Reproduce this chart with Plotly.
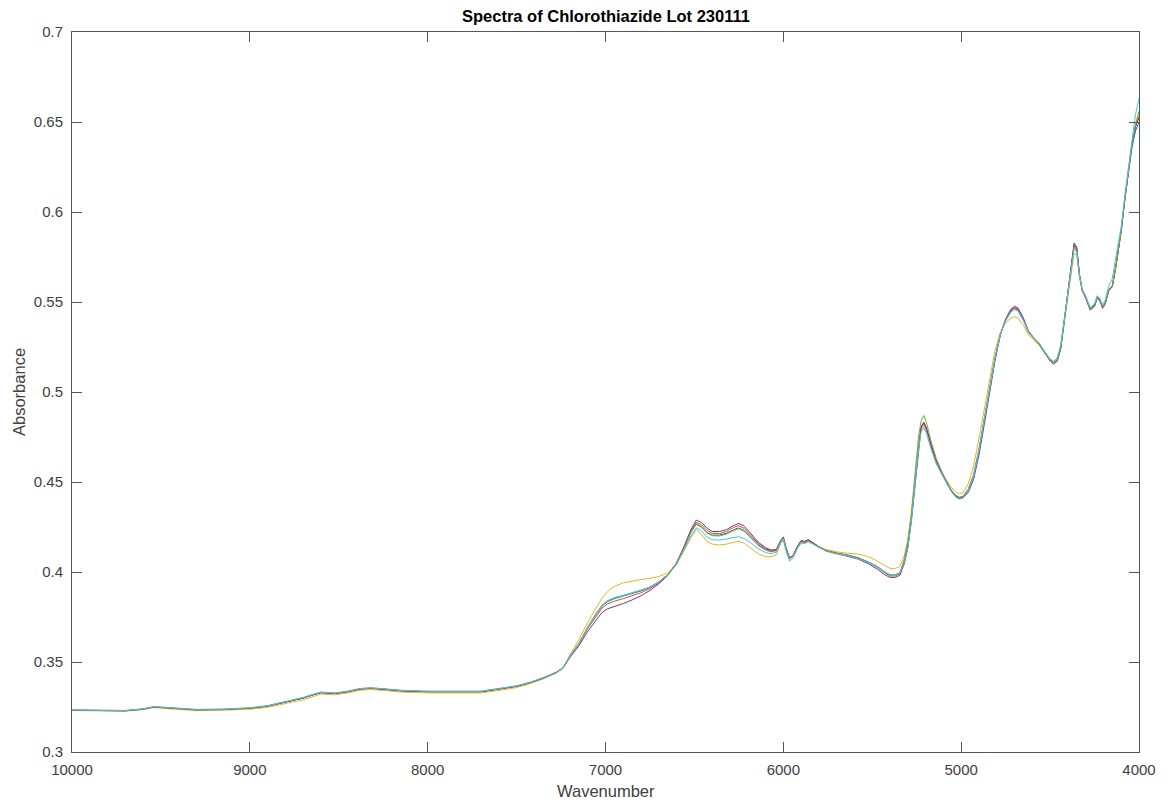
import plotly.graph_objects as go

# Wavenumber grid (cm^-1), shared by every spectrum
wn_a = [10000, 9900, 9800, 9700, 9600, 9540, 9450, 9300, 9150, 9000, 8900, 8800, 8750, 8700, 8650, 8600,
        8520, 8450, 8380, 8320, 8250, 8150, 8000, 7850, 7700, 7600, 7500, 7430, 7350, 7280, 7240]
wn_b = [7200, 7150, 7100, 7050, 7020, 6990, 6950, 6900, 6850, 6800, 6750, 6700, 6650, 6600, 6560, 6520,
        6490, 6460, 6430, 6400, 6360, 6320, 6280, 6250, 6220, 6180, 6140, 6100, 6070, 6040]
wn_c = [6015, 6000, 5985, 5965, 5945, 5920, 5900, 5880, 5860, 5840, 5800, 5760, 5700, 5640, 5580, 5520,
        5470, 5430, 5400, 5370, 5345]
wn_d = [5320, 5300, 5280, 5260, 5240, 5225, 5210, 5195, 5170, 5140, 5100, 5060, 5030, 5010, 4990, 4960]
wn_e = [4930, 4900, 4870, 4840, 4810, 4780, 4750, 4720, 4700, 4680, 4650, 4620, 4590, 4560, 4530, 4500]
wn_f = [4480, 4460, 4440, 4420, 4400, 4380, 4365, 4350, 4335, 4320, 4300, 4275, 4250, 4235, 4220, 4205,
        4190, 4170, 4150, 4130, 4115, 4100, 4080, 4060, 4040, 4020, 4000]
wavenumber = wn_a + wn_b + wn_c + wn_d + wn_e + wn_f

# Spectrum 1 (blue)
s1 = ([0.3232, 0.3230, 0.3228, 0.3229, 0.3238, 0.3250, 0.3244, 0.3234, 0.3236, 0.3243, 0.3255, 0.3278, 0.3290, 0.3300, 0.3316, 0.3330,
       0.3325, 0.3335, 0.3350, 0.3354, 0.3349, 0.3340, 0.3335, 0.3334, 0.3335, 0.3350, 0.3365, 0.3383, 0.3410, 0.3440, 0.3465]
      + [0.3530, 0.3600, 0.3690, 0.3770, 0.3810, 0.3835, 0.3852, 0.3865, 0.3880, 0.3895, 0.3915, 0.3945, 0.3985, 0.4050, 0.4130, 0.4220,
         0.4265, 0.4250, 0.4220, 0.4205, 0.4205, 0.4215, 0.4235, 0.4245, 0.4230, 0.4190, 0.4150, 0.4125, 0.4115, 0.4120]
      + [0.4170, 0.4190, 0.4130, 0.4075, 0.4090, 0.4140, 0.4170, 0.4165, 0.4175, 0.4165, 0.4140, 0.4120, 0.4105, 0.4095, 0.4080, 0.4055,
         0.4030, 0.4000, 0.3985, 0.3985, 0.3995]
      + [0.4060, 0.4150, 0.4300, 0.4500, 0.4700, 0.4800, 0.4825, 0.4790, 0.4700, 0.4610, 0.4530, 0.4460, 0.4425, 0.4415, 0.4420, 0.4460]
      + [0.4540, 0.4680, 0.4850, 0.5020, 0.5190, 0.5320, 0.5400, 0.5450, 0.5465, 0.5455, 0.5400, 0.5330, 0.5295, 0.5265, 0.5220, 0.5180]
      + [0.5165, 0.5180, 0.5250, 0.5400, 0.5560, 0.5700, 0.5810, 0.5790, 0.5650, 0.5570, 0.5530, 0.5465, 0.5485, 0.5530, 0.5515, 0.5475,
         0.5495, 0.5570, 0.5590, 0.5700, 0.5800, 0.5900, 0.6070, 0.6225, 0.6355, 0.6450, 0.6500])

# Spectrum 2 (orange-red)
s2 = ([0.3232, 0.3230, 0.3228, 0.3229, 0.3238, 0.3250, 0.3244, 0.3234, 0.3236, 0.3243, 0.3255, 0.3278, 0.3290, 0.3300, 0.3316, 0.3330,
       0.3325, 0.3335, 0.3350, 0.3354, 0.3349, 0.3340, 0.3335, 0.3334, 0.3335, 0.3350, 0.3365, 0.3383, 0.3410, 0.3440, 0.3465]
      + [0.3530, 0.3600, 0.3685, 0.3760, 0.3800, 0.3822, 0.3838, 0.3852, 0.3868, 0.3885, 0.3908, 0.3940, 0.3982, 0.4050, 0.4135, 0.4228,
         0.4275, 0.4262, 0.4232, 0.4215, 0.4213, 0.4225, 0.4248, 0.4258, 0.4242, 0.4200, 0.4158, 0.4130, 0.4118, 0.4122]
      + [0.4172, 0.4192, 0.4132, 0.4078, 0.4092, 0.4142, 0.4172, 0.4168, 0.4177, 0.4167, 0.4140, 0.4120, 0.4105, 0.4093, 0.4078, 0.4052,
         0.4025, 0.3995, 0.3978, 0.3978, 0.3990]
      + [0.4055, 0.4145, 0.4295, 0.4495, 0.4700, 0.4805, 0.4830, 0.4795, 0.4705, 0.4612, 0.4530, 0.4458, 0.4420, 0.4410, 0.4415, 0.4452]
      + [0.4530, 0.4668, 0.4838, 0.5010, 0.5182, 0.5318, 0.5402, 0.5455, 0.5470, 0.5460, 0.5405, 0.5332, 0.5296, 0.5265, 0.5218, 0.5176]
      + [0.5160, 0.5175, 0.5245, 0.5398, 0.5562, 0.5705, 0.5818, 0.5798, 0.5652, 0.5568, 0.5526, 0.5460, 0.5480, 0.5526, 0.5510, 0.5470,
         0.5492, 0.5566, 0.5588, 0.5698, 0.5798, 0.5898, 0.6068, 0.6228, 0.6375, 0.6475, 0.6530])

# Spectrum 3 (yellow)
s3 = ([0.3230, 0.3228, 0.3226, 0.3227, 0.3235, 0.3247, 0.3240, 0.3230, 0.3232, 0.3238, 0.3248, 0.3268, 0.3280, 0.3290, 0.3306, 0.3322,
       0.3318, 0.3328, 0.3343, 0.3347, 0.3342, 0.3333, 0.3328, 0.3327, 0.3328, 0.3342, 0.3358, 0.3378, 0.3406, 0.3438, 0.3465]
      + [0.3540, 0.3625, 0.3720, 0.3805, 0.3855, 0.3890, 0.3920, 0.3940, 0.3950, 0.3958, 0.3965, 0.3975, 0.3995, 0.4045, 0.4115, 0.4190,
         0.4235, 0.4210, 0.4170, 0.4155, 0.4150, 0.4155, 0.4165, 0.4170, 0.4160, 0.4130, 0.4100, 0.4085, 0.4085, 0.4095]
      + [0.4160, 0.4175, 0.4125, 0.4080, 0.4090, 0.4135, 0.4160, 0.4160, 0.4168, 0.4160, 0.4140, 0.4125, 0.4112, 0.4105, 0.4100, 0.4085,
         0.4060, 0.4035, 0.4020, 0.4020, 0.4030]
      + [0.4090, 0.4180, 0.4320, 0.4510, 0.4700, 0.4790, 0.4810, 0.4775, 0.4690, 0.4605, 0.4535, 0.4475, 0.4445, 0.4435, 0.4440, 0.4490]
      + [0.4590, 0.4740, 0.4910, 0.5080, 0.5230, 0.5330, 0.5385, 0.5410, 0.5418, 0.5410, 0.5370, 0.5315, 0.5285, 0.5258, 0.5215, 0.5178]
      + [0.5162, 0.5175, 0.5245, 0.5390, 0.5545, 0.5680, 0.5770, 0.5760, 0.5640, 0.5565, 0.5525, 0.5462, 0.5480, 0.5525, 0.5510, 0.5472,
         0.5492, 0.5565, 0.5588, 0.5700, 0.5795, 0.5895, 0.6065, 0.6225, 0.6375, 0.6478, 0.6555])

# Spectrum 4 (purple)
s4 = ([0.3232, 0.3230, 0.3228, 0.3229, 0.3238, 0.3250, 0.3244, 0.3234, 0.3236, 0.3243, 0.3255, 0.3278, 0.3290, 0.3300, 0.3316, 0.3330,
       0.3325, 0.3335, 0.3350, 0.3354, 0.3349, 0.3340, 0.3335, 0.3334, 0.3335, 0.3350, 0.3365, 0.3383, 0.3410, 0.3440, 0.3465]
      + [0.3525, 0.3590, 0.3670, 0.3740, 0.3775, 0.3795, 0.3808, 0.3825, 0.3845, 0.3868, 0.3898, 0.3935, 0.3980, 0.4050, 0.4138, 0.4235,
         0.4288, 0.4275, 0.4245, 0.4225, 0.4225, 0.4235, 0.4258, 0.4270, 0.4255, 0.4210, 0.4165, 0.4135, 0.4122, 0.4125]
      + [0.4175, 0.4195, 0.4135, 0.4078, 0.4092, 0.4145, 0.4175, 0.4170, 0.4180, 0.4168, 0.4140, 0.4118, 0.4102, 0.4090, 0.4072, 0.4045,
         0.4015, 0.3985, 0.3970, 0.3970, 0.3982]
      + [0.4045, 0.4135, 0.4285, 0.4490, 0.4695, 0.4805, 0.4832, 0.4800, 0.4710, 0.4618, 0.4535, 0.4458, 0.4418, 0.4408, 0.4410, 0.4442]
      + [0.4515, 0.4650, 0.4820, 0.4995, 0.5172, 0.5315, 0.5405, 0.5460, 0.5476, 0.5466, 0.5410, 0.5335, 0.5298, 0.5266, 0.5218, 0.5172]
      + [0.5155, 0.5170, 0.5240, 0.5395, 0.5565, 0.5712, 0.5828, 0.5805, 0.5655, 0.5566, 0.5522, 0.5455, 0.5475, 0.5522, 0.5505, 0.5465,
         0.5488, 0.5562, 0.5585, 0.5695, 0.5795, 0.5895, 0.6065, 0.6225, 0.6372, 0.6472, 0.6525])

# Spectrum 5 (green)
s5 = ([0.3233, 0.3231, 0.3229, 0.3230, 0.3239, 0.3251, 0.3245, 0.3235, 0.3237, 0.3244, 0.3256, 0.3279, 0.3291, 0.3302, 0.3318, 0.3332,
       0.3327, 0.3337, 0.3352, 0.3356, 0.3351, 0.3342, 0.3337, 0.3336, 0.3337, 0.3352, 0.3367, 0.3385, 0.3412, 0.3442, 0.3466]
      + [0.3532, 0.3605, 0.3695, 0.3775, 0.3815, 0.3838, 0.3855, 0.3868, 0.3882, 0.3897, 0.3917, 0.3946, 0.3986, 0.4050, 0.4130, 0.4222,
         0.4268, 0.4252, 0.4218, 0.4202, 0.4200, 0.4210, 0.4230, 0.4240, 0.4226, 0.4186, 0.4146, 0.4122, 0.4112, 0.4118]
      + [0.4168, 0.4188, 0.4128, 0.4072, 0.4088, 0.4138, 0.4168, 0.4163, 0.4173, 0.4163, 0.4138, 0.4118, 0.4103, 0.4093, 0.4078, 0.4053,
         0.4028, 0.3998, 0.3983, 0.3983, 0.3995]
      + [0.4070, 0.4170, 0.4330, 0.4540, 0.4750, 0.4840, 0.4870, 0.4830, 0.4730, 0.4630, 0.4540, 0.4462, 0.4425, 0.4415, 0.4420, 0.4458]
      + [0.4538, 0.4678, 0.4848, 0.5020, 0.5190, 0.5320, 0.5398, 0.5448, 0.5462, 0.5452, 0.5398, 0.5328, 0.5292, 0.5262, 0.5216, 0.5175]
      + [0.5158, 0.5176, 0.5248, 0.5400, 0.5560, 0.5700, 0.5805, 0.5786, 0.5648, 0.5568, 0.5528, 0.5462, 0.5482, 0.5528, 0.5512, 0.5472,
         0.5494, 0.5568, 0.5590, 0.5700, 0.5800, 0.5900, 0.6070, 0.6230, 0.6380, 0.6485, 0.6560])

# Spectrum 6 (cyan)
s6 = ([0.3234, 0.3232, 0.3230, 0.3231, 0.3240, 0.3253, 0.3247, 0.3237, 0.3239, 0.3246, 0.3258, 0.3281, 0.3293, 0.3303, 0.3319, 0.3333,
       0.3328, 0.3338, 0.3353, 0.3357, 0.3352, 0.3343, 0.3338, 0.3337, 0.3338, 0.3353, 0.3368, 0.3386, 0.3413, 0.3443, 0.3467]
      + [0.3530, 0.3600, 0.3690, 0.3772, 0.3815, 0.3840, 0.3858, 0.3870, 0.3884, 0.3898, 0.3916, 0.3944, 0.3982, 0.4042, 0.4118, 0.4200,
         0.4245, 0.4228, 0.4195, 0.4180, 0.4177, 0.4183, 0.4192, 0.4196, 0.4186, 0.4160, 0.4128, 0.4108, 0.4102, 0.4110]
      + [0.4162, 0.4182, 0.4118, 0.4060, 0.4078, 0.4132, 0.4162, 0.4158, 0.4168, 0.4158, 0.4135, 0.4115, 0.4100, 0.4090, 0.4075, 0.4052,
         0.4028, 0.3998, 0.3985, 0.3985, 0.3995]
      + [0.4050, 0.4135, 0.4280, 0.4480, 0.4680, 0.4780, 0.4800, 0.4770, 0.4685, 0.4600, 0.4522, 0.4452, 0.4415, 0.4405, 0.4410, 0.4450]
      + [0.4532, 0.4672, 0.4845, 0.5015, 0.5185, 0.5316, 0.5395, 0.5445, 0.5458, 0.5450, 0.5398, 0.5330, 0.5298, 0.5270, 0.5225, 0.5185]
      + [0.5170, 0.5190, 0.5262, 0.5410, 0.5560, 0.5695, 0.5795, 0.5778, 0.5645, 0.5572, 0.5535, 0.5470, 0.5490, 0.5535, 0.5520, 0.5485,
         0.5510, 0.5590, 0.5630, 0.5750, 0.5830, 0.5920, 0.6090, 0.6250, 0.6410, 0.6540, 0.6630])

series = [s1, s2, s3, s4, s5, s6]
colors = ["#0072BD", "#D95319", "#EDB120", "#7E2F8E", "#77AC30", "#4DBEEE"]

x_ticks = [10000, 9000, 8000, 7000, 6000, 5000, 4000]
y_ticks = [0.3, 0.35, 0.4, 0.45, 0.5, 0.55, 0.6, 0.65, 0.7]
y_tick_text = ["0.3", "0.35", "0.4", "0.45", "0.5", "0.55", "0.6", "0.65", "0.7"]

FONT = "Liberation Sans, Arial, Helvetica, sans-serif"
AX = "#555555"
TXT = "#404040"

fig = go.Figure()
for ys, c in zip(series, colors):
    fig.add_trace(go.Scatter(x=wavenumber, y=ys, mode="lines",
                             line=dict(color=c, width=1), showlegend=False, hoverinfo="skip"))

fig.update_layout(
    width=1170, height=804,
    margin=dict(l=72, r=31, t=32, b=52),
    paper_bgcolor="white", plot_bgcolor="white",
    font=dict(family=FONT, size=15, color=TXT),
    showlegend=False,
)
fig.update_xaxes(range=[10000, 4000], tickvals=x_ticks, ticktext=[str(v) for v in x_ticks],
                 showgrid=False, zeroline=False, showline=True, linecolor=AX, linewidth=1,
                 mirror="ticks", ticks="inside", ticklen=10, tickcolor=AX, tickwidth=1,
                 tickfont=dict(size=15, color=TXT), ticklabelstandoff=4)
fig.update_yaxes(range=[0.3, 0.7], tickvals=y_ticks, ticktext=y_tick_text,
                 showgrid=False, zeroline=False, showline=True, linecolor=AX, linewidth=1,
                 mirror="ticks", ticks="inside", ticklen=10, tickcolor=AX, tickwidth=1,
                 tickfont=dict(size=15, color=TXT), ticklabelstandoff=5)

fig.add_annotation(text="<b>Spectra of Chlorothiazide Lot 230111</b>", xref="paper", yref="paper",
                   x=0.5, y=1, yshift=16, xanchor="center", yanchor="middle", showarrow=False,
                   font=dict(family=FONT, size=16.5, color="#000000"))
fig.add_annotation(text="Wavenumber", xref="paper", yref="paper", x=0.5, y=0, yshift=-39,
                   xanchor="center", yanchor="middle", showarrow=False,
                   font=dict(family=FONT, size=16.5, color=TXT))
fig.add_annotation(text="Absorbance", xref="paper", yref="paper", x=0, xshift=-53, y=0.5,
                   xanchor="center", yanchor="middle", textangle=-90, showarrow=False,
                   font=dict(family=FONT, size=16.5, color=TXT))

fig.write_html("out.html")
